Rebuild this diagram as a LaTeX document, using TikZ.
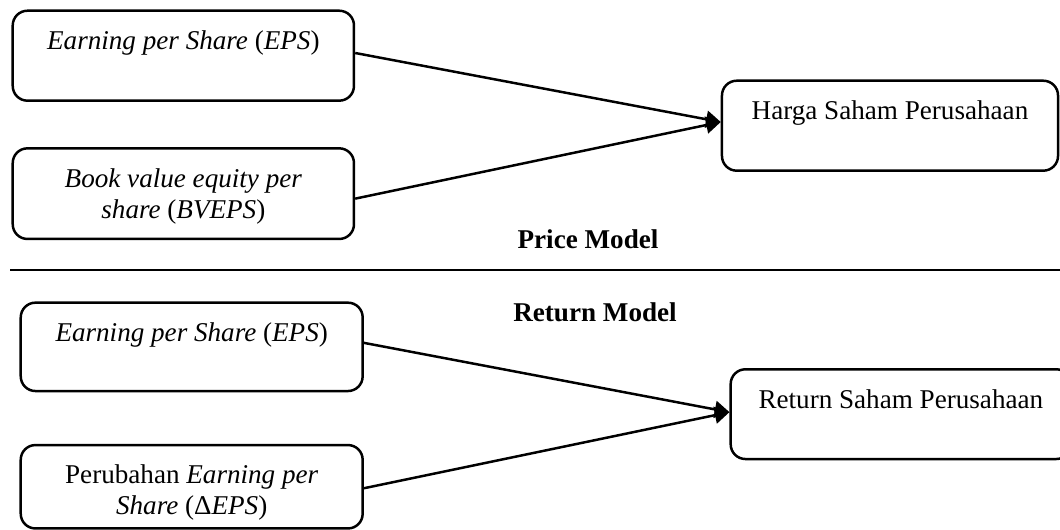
\documentclass[tikz,border=0pt]{standalone}
\usepackage{fontspec}
\setmainfont{Liberation Serif}
\usetikzlibrary{arrows.meta,calc}
\begin{document}
\begin{tikzpicture}[x=0.4425pt,y=-0.4425pt,
  box/.style={draw,line width=1.1pt,rounded corners=6.5pt,inner sep=0pt},
  boxtext/.style={anchor=north,inner sep=0pt,align=center,font=\fontsize{12pt}{13.8pt}\selectfont},
  link/.style={line width=1.1pt,-{Triangle[length=6.5pt,width=7.5pt]}},
  heading/.style={inner sep=0pt,font=\fontsize{12pt}{13.8pt}\selectfont\bfseries}]
\useasboundingbox (0,0) rectangle (1060,530);

% price model
\node[box,minimum width=151pt,minimum height=39.8pt] (A) at (183.35,55.7) {};
\node[box,minimum width=151pt,minimum height=40.1pt] (B) at (183.35,193.65) {};
\node[box,minimum width=148.7pt,minimum height=39.8pt] (C) at (890,125.7) {};
\node[boxtext] (At) at ($(A.north)+(0,21)$) {\textit{Earning per Share} (\textit{EPS})};
\node[boxtext] (Bt) at ($(B.north)+(0,21)$) {\textit{Book value equity per}\\\textit{share} (\textit{BVEPS})};
\node[boxtext] (Ct) at ($(C.north)+(0,21)$) {Harga Saham Perusahaan};
\draw[link] ($(A.east)+(0,-2.7)$) -- ($(C.west)+(0,-3.7)$);
\draw[link] ($(B.east)+(0,5)$) -- ($(C.west)+(0,-3.7)$);

\node[heading] (pm) at (588,239) {Price Model};
\coordinate (sepL) at (10,270);
\coordinate (sepR) at (1060,270);
\draw[line width=1.1pt] (sepL) -- (sepR);
\node[heading] (rm) at (595,312) {Return Model};

% return model
\node[box,minimum width=151.3pt,minimum height=39.1pt] (D) at (191.7,346.85) {};
\node[box,minimum width=151.3pt,minimum height=36.9pt] (E) at (191.7,486.75) {};
\node[box,minimum width=150.6pt,minimum height=39.7pt] (F) at (900.85,414.15) {};
\node[boxtext] (Dt) at ($(D.north)+(0,21)$) {\textit{Earning per Share} (\textit{EPS})};
\node[boxtext] (Et) at ($(E.north)+(0,20)$) {Perubahan \textit{Earning per}\\\textit{Share} (Δ\textit{EPS})};
\node[boxtext] (Ft) at ($(F.north)+(0,21)$) {Return Saham Perusahaan};
\draw[link] ($(D.east)+(0,-4)$) -- ($(F.west)+(0,-2)$);
\draw[link] ($(E.east)+(0,1.5)$) -- ($(F.west)+(0,-2)$);
\end{tikzpicture}
\end{document}
